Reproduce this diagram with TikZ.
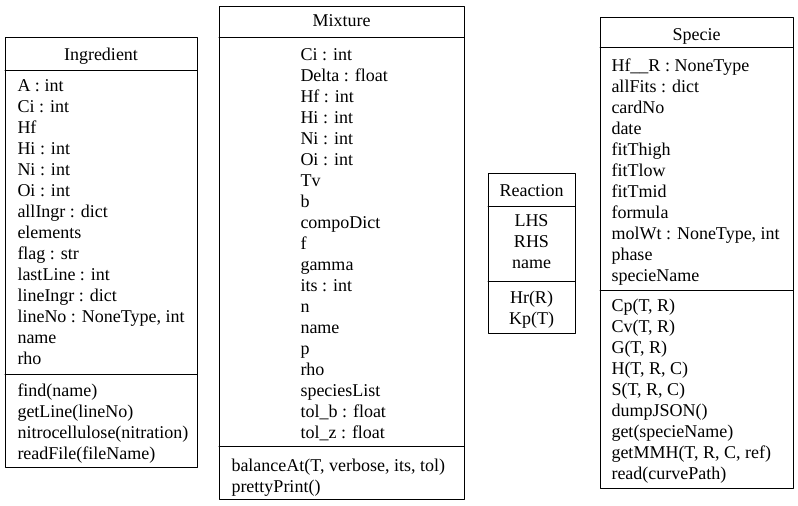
\documentclass[tikz,border=0pt]{standalone}
\usepackage{fontspec}
\setmainfont{Liberation Serif}
\usetikzlibrary{arrows}

\begin{document}
\begin{tikzpicture}[line width=1pt, x=1pt, y=-1pt, line cap=round, line join=round,
    every node/.style={font=\fontsize{18}{21}\selectfont, inner sep=0pt},
    box/.style={draw, anchor=north west, outer sep=0pt},
    row/.style={anchor=base west},
    crow/.style={anchor=base}]
    \useasboundingbox (0,0) rectangle (798,506);
    % Ingredient
    \draw(5,37) node[box, minimum width=192, minimum height=430] (ing) {};
    \draw (ing.west |- 0,70) -- (ing.east |- 0,70);
    \draw (ing.west |- 0,374) -- (ing.east |- 0,374);
    \draw(101,60) node[crow] (ingt) {Ingredient};
    \foreach \t [count=\i from 0] in {A : int, Ci : int, Hf, Hi : int, Ni : int, Oi : int, allIngr : dict, elements, flag : str, lastLine : int, lineIngr : dict, {lineNo : NoneType, int}, name, rho}
        \draw(17,91+21*\i) node[row] (inga\i) {\t};
    \foreach \t [count=\i from 0] in {find(name), getLine(lineNo), nitrocellulose(nitration), readFile(fileName)}
        \draw(17,396+21*\i) node[row] (ingm\i) {\t};
    % Mixture
    \draw(219,6) node[box, minimum width=245, minimum height=493] (mix) {};
    \draw (mix.west |- 0,37) -- (mix.east |- 0,37);
    \draw (mix.west |- 0,446) -- (mix.east |- 0,446);
    \draw(341.5,27) node[crow] (mixt) {Mixture};
    \foreach \t [count=\i from 0] in {Ci : int, Delta : float, Hf : int, Hi : int, Ni : int, Oi : int, Tv, b, compoDict, f, gamma, its : int, n, name, p, rho, speciesList, tol\_b : float, tol\_z : float}
        \draw(300,60+21*\i) node[row] (mixa\i) {\t};
    \foreach \t [count=\i from 0] in {{balanceAt(T, verbose, its, tol)}, prettyPrint()}
        \draw(231,471+21*\i) node[row] (mixm\i) {\t};
    % Reaction
    \draw(488,173) node[box, minimum width=87, minimum height=160] (rea) {};
    \draw (rea.west |- 0,206) -- (rea.east |- 0,206);
    \draw (rea.west |- 0,281) -- (rea.east |- 0,281);
    \draw(531.5,196) node[crow] (reat) {Reaction};
    \foreach \t [count=\i from 0] in {LHS, RHS, name}
        \draw(531.5,226+21*\i) node[crow] (reaa\i) {\t};
    \foreach \t [count=\i from 0] in {Hr(R), Kp(T)}
        \draw(531.5,303+21*\i) node[crow] (ream\i) {\t};
    % Specie
    \draw(600,17) node[box, minimum width=193, minimum height=471] (spe) {};
    \draw (spe.west |- 0,47) -- (spe.east |- 0,47);
    \draw (spe.west |- 0,290) -- (spe.east |- 0,290);
    \draw(696.5,40) node[crow] (spet) {Specie};
    \foreach \t [count=\i from 0] in {Hf\_\_R : NoneType, allFits : dict, cardNo, date, fitThigh, fitTlow, fitTmid, formula, {molWt : NoneType, int}, phase, specieName}
        \draw(611,71+21*\i) node[row] (spea\i) {\t};
    \foreach \t [count=\i from 0] in {{Cp(T, R)}, {Cv(T, R)}, {G(T, R)}, {H(T, R, C)}, {S(T, R, C)}, dumpJSON(), get(specieName), {getMMH(T, R, C, ref)}, read(curvePath)}
        \draw(611,311+21*\i) node[row] (spem\i) {\t};
\end{tikzpicture}
\end{document}
